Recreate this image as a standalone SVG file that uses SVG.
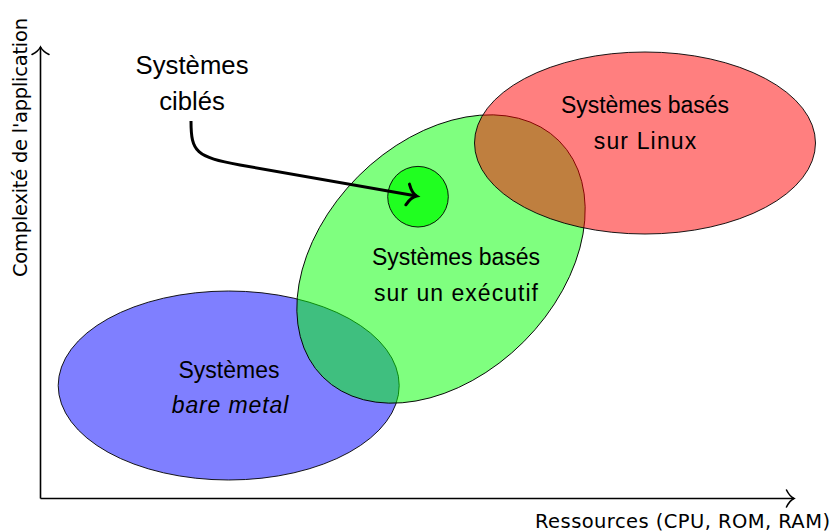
<svg xmlns="http://www.w3.org/2000/svg" width="834" height="532" viewBox="0 0 834 532">
<style>
.ell{stroke:#000;stroke-width:0.9;fill-opacity:0.5}
.lbl{font-family:"Liberation Sans",Arial,sans-serif;font-size:23px;fill:#000;text-anchor:middle}
.ax{font-family:"DejaVu Sans",sans-serif;font-size:19.5px;fill:#000}
.axis{stroke:#000;stroke-width:1.6;fill:none}
</style>
<defs>
<marker id="ah" markerUnits="userSpaceOnUse" markerWidth="20" markerHeight="24" refX="0" refY="0" viewBox="-10 -12 12 24" orient="auto" overflow="visible">
<path d="M-7.5,-8.5 C-5,-3.5 -2,-1 0,0 C-2,1 -5,3.5 -7.5,8.5" stroke="#000" stroke-width="1.6" fill="none" stroke-linecap="round"/>
</marker>
<marker id="ah2" markerUnits="userSpaceOnUse" markerWidth="24" markerHeight="28" refX="0" refY="0" viewBox="-12 -14 14 28" orient="auto" overflow="visible">
<path d="M-9,-10.5 C-6,-4 -2.5,-1 0,0 C-2.5,1 -6,4 -9,10.5" stroke="#000" stroke-width="3" fill="none" stroke-linecap="round"/>
</marker>
</defs>
<g id="axes">
<path class="axis" d="M40.5,498.5 L40.5,47" marker-end="url(#ah)"/>
<path class="axis" d="M40.5,498.5 L794,498.5" marker-end="url(#ah)"/>
<text class="ax" transform="translate(26.5,277) rotate(-90)" textLength="259" lengthAdjust="spacing">Complexité de l'application</text>
<text class="ax" x="535" y="527.5" textLength="295" lengthAdjust="spacing">Ressources (CPU, ROM, RAM)</text>
</g>
<g id="baremetal">
<ellipse class="ell" cx="228.7" cy="385.5" rx="170.5" ry="94.5" fill="#0000ff"/>
</g>
<g id="executif">
<ellipse class="ell" cx="441" cy="259" rx="167" ry="117" transform="rotate(-45 441 259)" fill="#00ff00"/>
</g>
<g id="linux">
<ellipse class="ell" cx="645" cy="143" rx="170.5" ry="91" fill="#ff0000"/>
</g>
<g id="cibles">
<circle cx="418" cy="196.7" r="30.3" fill="#20ff20" stroke="#000" stroke-width="0.9"/>
</g>
<g id="connectors">
<path d="M191,121 C191,152 196,157 240,165 L416.5,196" stroke="#000" stroke-width="3" fill="none" marker-end="url(#ah2)"/>
</g>
<g id="labels">
<text class="lbl" x="645" y="112.5" textLength="168" lengthAdjust="spacing">Systèmes basés</text>
<text class="lbl" x="645" y="149" textLength="102.5" lengthAdjust="spacing">sur Linux</text>
<text class="lbl" x="456" y="264.5" textLength="168" lengthAdjust="spacing">Systèmes basés</text>
<text class="lbl" x="456" y="300.5" textLength="164" lengthAdjust="spacing">sur un exécutif</text>
<text class="lbl" x="229" y="377.5" textLength="101" lengthAdjust="spacing">Systèmes</text>
<text class="lbl" x="230" y="413" font-style="italic" textLength="116.5" lengthAdjust="spacing">bare metal</text>
<text class="lbl" x="192" y="73.5" style="font-size:25.7px" textLength="113" lengthAdjust="spacing">Systèmes</text>
<text class="lbl" x="192" y="110" style="font-size:25.7px">ciblés</text>
</g>
</svg>
